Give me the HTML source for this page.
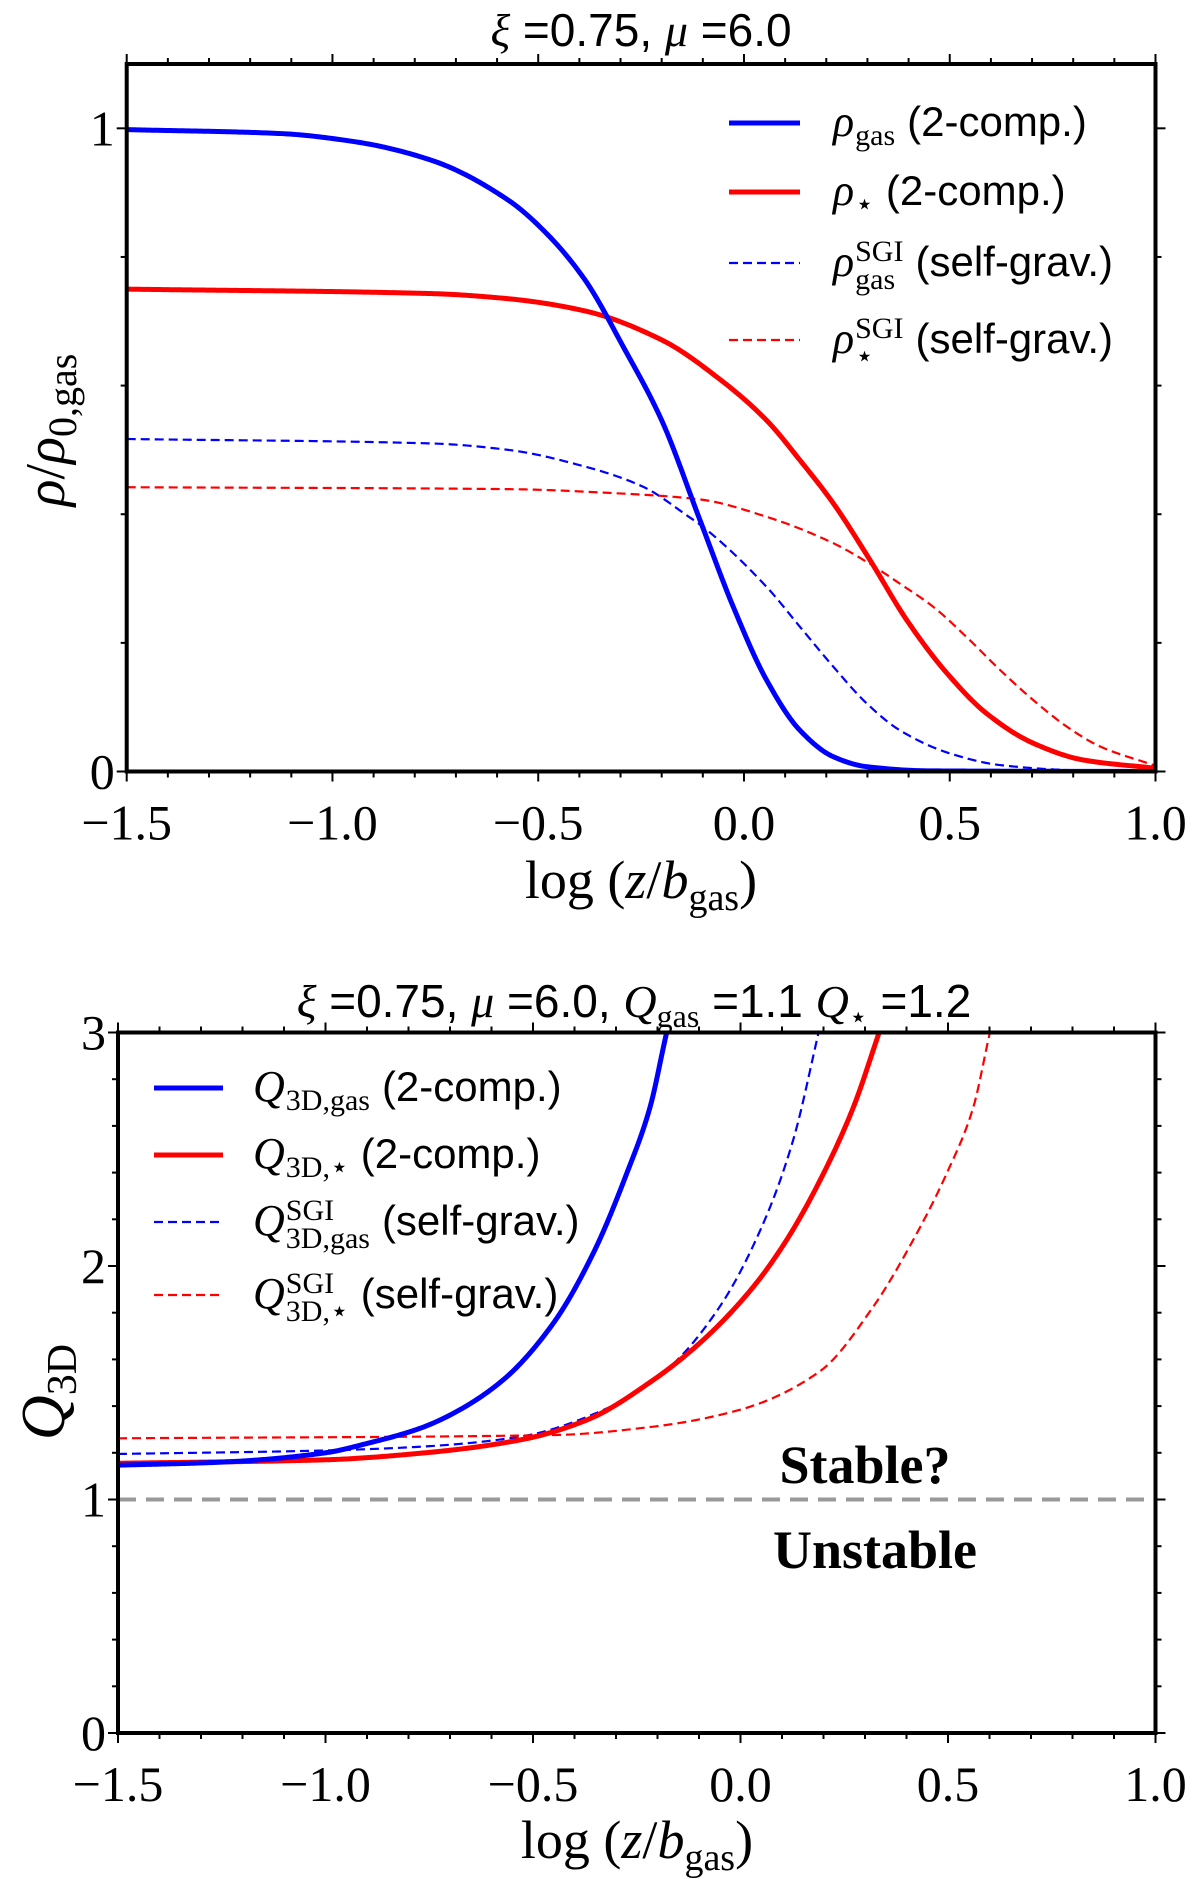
<!DOCTYPE html>
<html><head><meta charset="utf-8"><style>
html,body{margin:0;padding:0;background:#fff}
svg{display:block}
text{font-family:"Liberation Serif",serif;fill:#000}
.sans{font-family:"Liberation Sans",sans-serif}
</style></head><body>
<svg id="fig" width="1200" height="1879" viewBox="0 0 1200 1879" xmlns="http://www.w3.org/2000/svg">
<g id="p1"></g>
<g id="p2"></g>
</svg>
<script>
// ---- Panel 1 data: rho / rho_0,gas ----
const rhoX = [-1.5,-1.13,-0.944,-0.758,-0.572,-0.479,-0.386,-0.293,-0.2,-0.107,-0.026,0.055,0.136,0.217,0.298,0.45,1.0];
const rhoGas = [0.998,0.992,0.979,0.950,0.888,0.836,0.764,0.660,0.546,0.391,0.256,0.142,0.064,0.023,0.0075,0.001,0.0];
const rhoStarX = [-1.5,-0.758,-0.572,-0.386,-0.2,-0.055,0.055,0.136,0.217,0.306,0.396,0.493,0.59,0.703,0.824,1.0];
const rhoStar = [0.75,0.743,0.735,0.716,0.671,0.608,0.546,0.484,0.417,0.329,0.235,0.153,0.090,0.044,0.018,0.005];
const sgiGasX = [-1.5,-0.758,-0.572,-0.386,-0.246,-0.134,-0.099,0.055,0.136,0.217,0.298,0.379,0.501,0.622,0.8,1.0];
const sgiGas = [0.517,0.510,0.500,0.474,0.443,0.396,0.380,0.287,0.225,0.163,0.106,0.064,0.028,0.010,0.002,0.0];
const sgiStarX = [-1.5,-0.572,-0.293,-0.107,0.055,0.217,0.298,0.379,0.46,0.541,0.622,0.703,0.784,0.865,0.995];
const sgiStar = [0.442,0.439,0.432,0.423,0.396,0.355,0.326,0.292,0.256,0.209,0.158,0.111,0.070,0.039,0.010];
// ---- Panel 2 data: Q_3D ----
const qGasX = [-1.5,-1.25,-1.0,-0.9,-0.772,-0.692,-0.572,-0.451,-0.355,-0.274,-0.218,-0.182,-0.178];
const qGas = [1.147,1.16,1.20,1.24,1.305,1.369,1.512,1.755,2.054,2.397,2.68,2.968,3.0];
const qStarX = [-1.5,-1.0,-0.772,-0.531,-0.371,-0.21,-0.09,0.031,0.111,0.192,0.272,0.328,0.334];
const qStar = [1.155,1.17,1.198,1.255,1.34,1.512,1.683,1.911,2.111,2.368,2.68,2.968,3.0];
const qSgiGasX = [-1.5,-1.0,-0.772,-0.531,-0.331,-0.17,-0.05,0.055,0.127,0.184,0.188];
const qSgiGas = [1.195,1.21,1.226,1.269,1.383,1.569,1.826,2.183,2.54,2.968,3.0];
const qSgiStarX = [-1.5,-0.451,-0.21,0.0,0.192,0.32,0.416,0.497,0.561,0.597,0.601];
const qSgiStar = [1.262,1.276,1.312,1.385,1.55,1.826,2.111,2.397,2.68,2.968,3.0];
const xTicks = [-1.5,-1.0,-0.5,0.0,0.5,1.0];
const xTickLabels = ["\u22121.5","\u22121.0","\u22120.5","0.0","0.5","1.0"];

const NS="http://www.w3.org/2000/svg";
function mk(parent,tag,attrs,txt){const e=document.createElementNS(NS,tag);for(const k in attrs)e.setAttribute(k,attrs[k]);if(txt!==undefined)e.textContent=txt;parent.appendChild(e);return e;}

function monotone(xs,ys){
  const n=xs.length,d=[],m=new Array(n);
  for(let i=0;i<n-1;i++)d.push((ys[i+1]-ys[i])/(xs[i+1]-xs[i]));
  m[0]=d[0];m[n-1]=d[n-2];
  for(let i=1;i<n-1;i++){ if(d[i-1]*d[i]<=0)m[i]=0; else {const w1=2*(xs[i+1]-xs[i])+(xs[i]-xs[i-1]),w2=(xs[i+1]-xs[i])+2*(xs[i]-xs[i-1]);m[i]=(w1+w2)/(w1/d[i-1]+w2/d[i]);} }
  return function(x){
    let i=0;while(i<n-2&&x>xs[i+1])i++;
    const h=xs[i+1]-xs[i],t=(x-xs[i])/h,t2=t*t,t3=t2*t;
    return (2*t3-3*t2+1)*ys[i]+(t3-2*t2+t)*h*m[i]+(-2*t3+3*t2)*ys[i+1]+(t3-t2)*h*m[i+1];
  };
}

function panel(g,L,R,T,B,ymax,yMajor,yMinorStep){
  const sx=v=>L+(v+1.5)/2.5*(R-L);
  const sy=v=>B-v/ymax*(B-T);
  for(let i=0;i<=25;i++){
    const v=-1.5+i*0.1, x=sx(v), major=(i%5===0);
    const len=major?10:6;
    let t=mk(g,"line",{x1:x,x2:x,y1:B,y2:B+len,stroke:"#000","stroke-width":2});
    
    
    t=mk(g,"line",{x1:x,x2:x,y1:T,y2:T-len,stroke:"#000","stroke-width":2});
    
    
  }
  const nMinor=Math.round(ymax/yMinorStep);
  for(let i=0;i<=nMinor;i++){
    const v=i*yMinorStep; if(v>ymax+1e-6)break;
    const y=sy(v), major=yMajor.some(m=>Math.abs(m-v)<1e-6), len=major?10:6;
    let t=mk(g,"line",{x1:L,x2:L-len,y1:y,y2:y,stroke:"#000","stroke-width":2});
    
    
    t=mk(g,"line",{x1:R,x2:R+len,y1:y,y2:y,stroke:"#000","stroke-width":2});
    
    
  }
  xTicks.forEach((v,i)=>{
    const t=mk(g,"text",{x:sx(v),y:B+68,"text-anchor":"middle","font-size":50},xTickLabels[i]);
    
    
  });
  yMajor.forEach(v=>{
    const t=mk(g,"text",{x:L-12,y:sy(v)+17,"text-anchor":"end","font-size":50},String(v));
    
    
  });
  return {sx,sy};
}

function series(g,xs,ys,sx,sy,color,dashed,name,clipId){
  const f=monotone(xs,ys);
  const x0=xs[0],x1=xs[xs.length-1],N=400;
  let d="";
  for(let i=0;i<=N;i++){const x=x0+(x1-x0)*i/N;d+=(i?"L":"M")+sx(x).toFixed(2)+","+sy(f(x)).toFixed(2);}
  const p=mk(g,"path",{d:d,fill:"none",stroke:color,"stroke-width":dashed?2.2:5,"stroke-dasharray":dashed?"9,5":"none","stroke-linejoin":"round","clip-path":"url(#"+clipId+")"});
  
  
}

function frame(g,L,R,T,B){
  const r=mk(g,"rect",{x:L,y:T,width:R-L,height:B-T,fill:"none",stroke:"#000","stroke-width":4});
  
  
}

function legendEntry(g,x1,x2,y,color,dashed,tx,sym,sup,sub,rest,name){
  const gg=mk(g,"g",{});
  
  
  mk(gg,"line",{x1:x1,x2:x2,y1:y,y2:y,stroke:color,"stroke-width":dashed?2.2:5,"stroke-dasharray":dashed?"9,5":"none"});
  const s=mk(gg,"text",{x:tx,y:y+13,"font-size":44,"font-style":"italic"},sym);
  let cx=tx+s.getComputedTextLength()+1, w=0;
  if(sup){const t=mk(gg,"text",{x:cx,y:y-2,"font-size":30},sup);w=Math.max(w,t.getComputedTextLength());}
  if(sub){const t=mk(gg,"text",{x:cx,y:y+(sup?26:22),"font-size":30},sub);w=Math.max(w,t.getComputedTextLength());}
  mk(gg,"text",{x:cx+w+12,y:y+13,"font-size":42,class:"sans"},rest);
}

const svg=document.getElementById("fig");
const defs=mk(svg,"defs",{});
// ---------- Panel 1 ----------
{
  const g=document.getElementById("p1");
  const L=126.7,R=1155.5,T=64,B=771.5;
  const cp=mk(defs,"clipPath",{id:"c1"}); mk(cp,"rect",{x:L,y:T,width:R-L,height:B-T});
  const {sx,sy}=panel(g,L,R,T,B,1.1,[0,1],0.2);
  series(g,sgiGasX,sgiGas,sx,sy,"#0000ff",true,"rho-gas-sgi-line","c1");
  series(g,sgiStarX,sgiStar,sx,sy,"#ff0000",true,"rho-star-sgi-line","c1");
  series(g,rhoStarX,rhoStar,sx,sy,"#ff0000",false,"rho-star-line","c1");
  series(g,rhoX,rhoGas,sx,sy,"#0000ff",false,"rho-gas-line","c1");
  frame(g,L,R,T,B);
  let t=mk(g,"text",{x:641,y:46,"text-anchor":"middle","font-size":46});
  t.innerHTML='<tspan font-style="italic">ξ</tspan><tspan class="sans"> =0.75, </tspan><tspan font-style="italic">μ</tspan><tspan class="sans"> =6.0</tspan>';
  
  
  t=mk(g,"text",{x:641,y:898,"text-anchor":"middle","font-size":54});
  t.innerHTML='log (<tspan font-style="italic">z</tspan>/<tspan font-style="italic">b</tspan><tspan font-size="38" dy="12">gas</tspan><tspan dy="-12">)</tspan>';
  
  
  t=mk(g,"text",{transform:"translate(64,430) rotate(-90)","text-anchor":"middle","font-size":56});
  t.innerHTML='<tspan font-style="italic">ρ</tspan>/<tspan font-style="italic">ρ</tspan><tspan font-size="40" dy="12">0,gas</tspan>';
  
  
  legendEntry(g,729,800,123,"#0000ff",false,833,"ρ",null,"gas","(2-comp.)","legend-rho-gas");
  legendEntry(g,729,800,192,"#ff0000",false,833,"ρ",null,"⋆","(2-comp.)","legend-rho-star");
  legendEntry(g,729,800,263,"#0000ff",true,833,"ρ","SGI","gas","(self-grav.)","legend-rho-gas-sgi");
  legendEntry(g,729,800,340,"#ff0000",true,833,"ρ","SGI","⋆","(self-grav.)","legend-rho-star-sgi");
}
// ---------- Panel 2 ----------
{
  const g=document.getElementById("p2");
  const L=118,R=1155.5,T=1032.5,B=1733;
  const cp=mk(defs,"clipPath",{id:"c2"}); mk(cp,"rect",{x:L,y:T,width:R-L,height:B-T});
  const {sx,sy}=panel(g,L,R,T,B,3,[0,1,2,3],0.2);
  const ref=mk(g,"line",{x1:L,x2:R,y1:sy(1),y2:sy(1),stroke:"#999","stroke-width":4,"stroke-dasharray":"18,10"});
  
  
  series(g,qSgiGasX,qSgiGas,sx,sy,"#0000ff",true,"q-gas-sgi-line","c2");
  series(g,qSgiStarX,qSgiStar,sx,sy,"#ff0000",true,"q-star-sgi-line","c2");
  series(g,qStarX,qStar,sx,sy,"#ff0000",false,"q-star-line","c2");
  series(g,qGasX,qGas,sx,sy,"#0000ff",false,"q-gas-line","c2");
  frame(g,L,R,T,B);
  let t=mk(g,"text",{x:634,y:1017,"text-anchor":"middle","font-size":46});
  t.innerHTML='<tspan font-style="italic">ξ</tspan><tspan class="sans"> =0.75, </tspan><tspan font-style="italic">μ</tspan><tspan class="sans"> =6.0, </tspan><tspan font-style="italic">Q</tspan><tspan font-size="32" dy="10">gas</tspan><tspan class="sans" dy="-10"> =1.1 </tspan><tspan font-style="italic">Q</tspan><tspan font-size="30" dy="10">⋆</tspan><tspan class="sans" dy="-10"> =1.2</tspan>';
  
  
  t=mk(g,"text",{x:637,y:1858,"text-anchor":"middle","font-size":54});
  t.innerHTML='log (<tspan font-style="italic">z</tspan>/<tspan font-style="italic">b</tspan><tspan font-size="38" dy="12">gas</tspan><tspan dy="-12">)</tspan>';
  
  
  t=mk(g,"text",{transform:"translate(64,1392) rotate(-90)","text-anchor":"middle","font-size":62});
  t.innerHTML='<tspan font-style="italic">Q</tspan><tspan font-size="42" dy="12">3D</tspan>';
  
  
  t=mk(g,"text",{x:865,y:1483,"text-anchor":"middle","font-size":54,"font-weight":"bold"},"Stable?");
  
  
  t=mk(g,"text",{x:875,y:1568,"text-anchor":"middle","font-size":54,"font-weight":"bold"},"Unstable");
  
  
  legendEntry(g,154,223,1088,"#0000ff",false,253,"Q",null,"3D,gas","(2-comp.)","legend-q-gas");
  legendEntry(g,154,223,1155,"#ff0000",false,253,"Q",null,"3D,⋆","(2-comp.)","legend-q-star");
  legendEntry(g,154,223,1222,"#0000ff",true,253,"Q","SGI","3D,gas","(self-grav.)","legend-q-gas-sgi");
  legendEntry(g,154,223,1295,"#ff0000",true,253,"Q","SGI","3D,⋆","(self-grav.)","legend-q-star-sgi");
}
</script>
</body></html>
